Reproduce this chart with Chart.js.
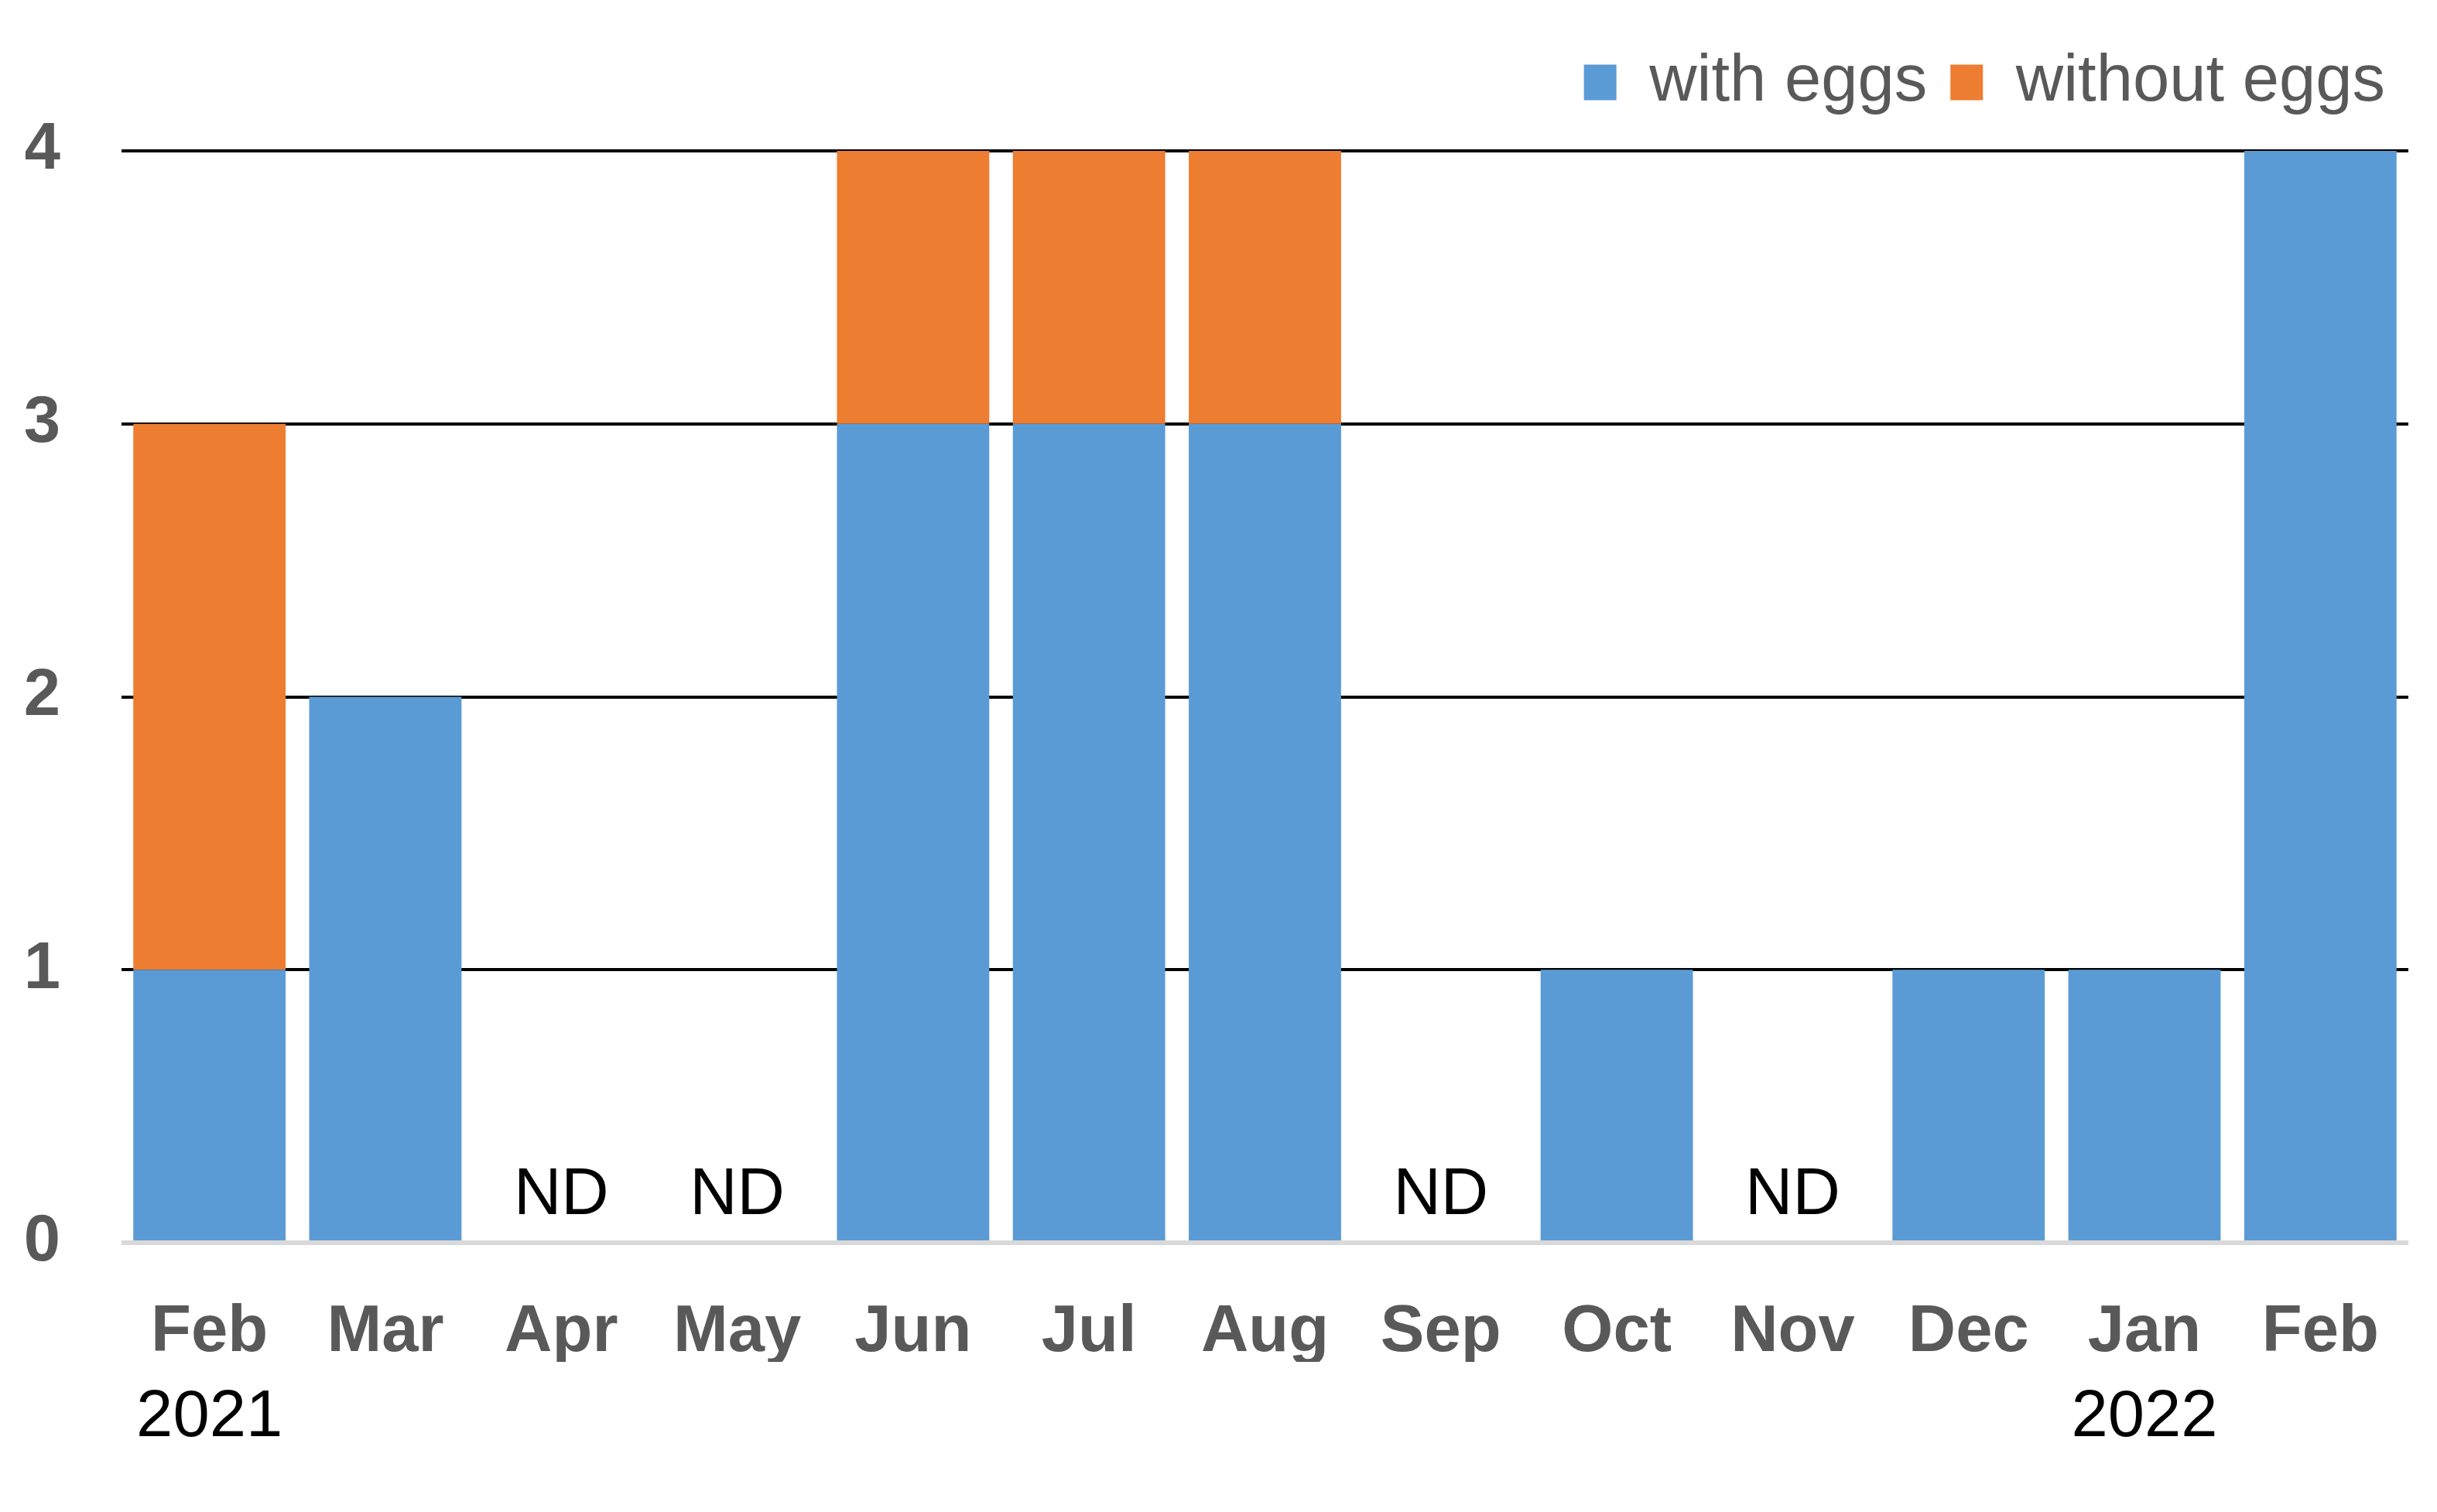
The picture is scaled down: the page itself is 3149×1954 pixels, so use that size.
<!DOCTYPE html>
<html>
<head>
<meta charset="utf-8">
<script src="https://cdn.jsdelivr.net/npm/chart.js@4"></script>
<style>
  body { margin: 0; background: #fff; }
  canvas { display: block; }
</style>
</head>
<body>
<canvas id="myChart" width="3149" height="1954"></canvas>
<script>
var months = ["Feb", "Mar", "Apr", "May", "Jun", "Jul", "Aug", "Sep", "Oct", "Nov", "Dec", "Jan", "Feb"];
var years = ["2021", "", "", "", "", "", "", "", "", "", "", "2022", ""];
var notes = ["", "", "ND", "ND", "", "", "", "ND", "", "ND", "", "", ""];
var withEggs = [1, 2, 0, 0, 3, 3, 3, 0, 1, 0, 1, 1, 4];
var withoutEggs = [2, 0, 0, 0, 1, 1, 1, 0, 0, 0, 0, 0, 0];
var yTicks = [0, 1, 2, 3, 4];

var FONT = "'Liberation Sans', Arial, sans-serif";
var FS = 85;

// ND marks and year row under the month names
var extraText = {
  id: "extraText",
  beforeInit: function (chart) {
    // extra room under the legend
    var fit = chart.legend.fit;
    chart.legend.fit = function () {
      fit.call(this);
      this.height += 36;
    };
  },
  afterDatasetsDraw: function (chart) {
    var c = chart.ctx;
    var x = chart.scales.x;
    var y = chart.scales.y;
    c.save();
    c.fillStyle = "#000";
    c.font = FS + "px " + FONT;
    c.textAlign = "center";
    c.textBaseline = "middle";
    notes.forEach(function (t, i) {
      if (t) c.fillText(t, x.getPixelForValue(i), y.getPixelForValue(0.17));
    });
    years.forEach(function (t, i) {
      if (t) c.fillText(t, x.getPixelForValue(i), x.top + 227);
    });
    c.restore();
  }
};

var ctx = document.getElementById("myChart").getContext("2d");
var myChart = new Chart(ctx, {
  type: "bar",
  data: {
    labels: months,
    datasets: [
      {
        label: "with eggs",
        backgroundColor: "#5B9BD5",
        data: withEggs,
      },
      {
        label: "without eggs",
        backgroundColor: "#ED7D31",
        data: withoutEggs,
      },
    ],
  },
  options: {
    responsive: false,
    animation: false,
    devicePixelRatio: 1,
    layout: { padding: { top: 34, right: 37, bottom: 194, left: 33 } },
    datasets: { bar: { barPercentage: 0.866, categoryPercentage: 1 } },
    plugins: {
      tooltip: { enabled: false },
      legend: {
        position: "top",
        align: "end",
        labels: {
          boxWidth: 42,
          boxHeight: 46,
          padding: 30,
          color: "#595959",
          font: { family: FONT, size: FS },
        },
      },
    },
    scales: {
      x: {
        stacked: true,
        grid: { display: false },
        border: { display: false },
        afterFit: function (s) { s.height = 154; },
        ticks: {
          padding: 58,
          color: "#595959",
          font: { family: FONT, size: FS, weight: "bold" },
        },
      },
      y: {
        stacked: true,
        min: 0,
        max: 4,
        afterBuildTicks: function (s) {
          s.ticks = yTicks.map(function (v) { return { value: v }; });
        },
        afterFit: function (s) { s.width = 124; },
        border: { display: false },
        grid: {
          drawTicks: false,
          color: function (c) { return c.tick && c.tick.value === 0 ? "#d9d9d9" : "#000"; },
          lineWidth: function (c) { return c.tick && c.tick.value === 0 ? 6 : 4; },
        },
        ticks: {
          padding: 79,
          color: "#595959",
          font: { family: FONT, size: FS, weight: "bold" },
        },
      },
    },
  },
  plugins: [extraText],
});
</script>
</body>
</html>
